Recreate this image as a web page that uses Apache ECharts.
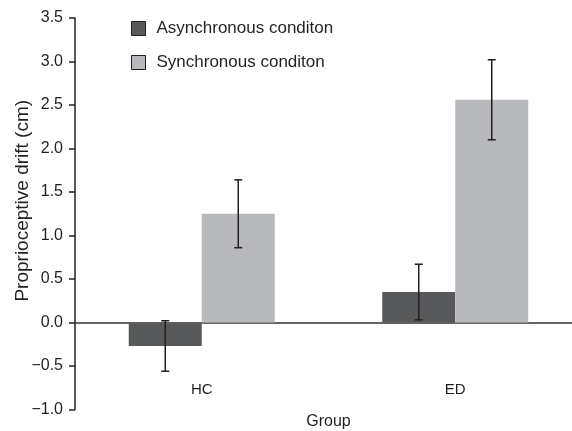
<!DOCTYPE html>
<html>
<head>
<meta charset="utf-8">
<script src="https://cdn.jsdelivr.net/npm/echarts@6/dist/echarts.min.js"></script>
<style>html,body{margin:0;padding:0;background:#fff}#c{width:572px;height:431px}</style>
</head>
<body>
<div id="c"></div>
<script>
var groups = ['HC', 'ED'];
var seriesNames = ['Asynchronous conditon', 'Synchronous conditon'];
var asyncValues = [-0.27, 0.35];
var syncValues = [1.25, 2.56];
var asyncErrors = [0.29, 0.32];
var syncErrors = [0.39, 0.46];
var yTicks = [-1.0, -0.5, 0.0, 0.5, 1.0, 1.5, 2.0, 2.5, 3.0, 3.5];

var textColor = '#231f20';
var fontFamily = 'Liberation Sans, Arial, sans-serif';
var barWidth = 73;

function errorSeries(values, errors, sign) {
  var data = values.map(function (v, i) { return [i, v - errors[i], v + errors[i]]; });
  return {
    type: 'custom',
    silent: true,
    z: 10,
    renderItem: function (params, api) {
      var idx = api.value(0);
      var lo = api.coord([idx, api.value(1)]);
      var hi = api.coord([idx, api.value(2)]);
      var x = lo[0] + sign * barWidth / 2;
      var cap = 4;
      var style = { stroke: textColor, lineWidth: 1.5 };
      return {
        type: 'group',
        children: [
          { type: 'line', shape: { x1: x, y1: lo[1], x2: x, y2: hi[1] }, style: style },
          { type: 'line', shape: { x1: x - cap, y1: lo[1], x2: x + cap, y2: lo[1] }, style: style },
          { type: 'line', shape: { x1: x - cap, y1: hi[1], x2: x + cap, y2: hi[1] }, style: style }
        ]
      };
    },
    data: data
  };
}

var chart = echarts.init(document.getElementById('c'));
chart.setOption({
  animation: false,
  backgroundColor: '#fff',
  textStyle: { fontFamily: fontFamily, color: textColor },
  grid: { left: 75, width: 507, top: 18, bottom: 21.5, containLabel: false, outerBoundsMode: 'none' },
  legend: {
    orient: 'vertical',
    left: 131,
    top: 20,
    padding: 0,
    itemWidth: 14,
    itemHeight: 14,
    itemGap: 17,
    icon: 'rect',
    data: seriesNames,
    itemStyle: { borderColor: textColor, borderWidth: 1 },
    textStyle: { fontSize: 17, color: textColor, fontFamily: fontFamily, padding: [0, 0, 0, 6] }
  },
  xAxis: {
    type: 'category',
    data: groups,
    name: 'Group',
    nameLocation: 'middle',
    nameGap: 4,
    nameMoveOverlap: false,
    nameTextStyle: { fontSize: 16, color: textColor, fontFamily: fontFamily },
    axisLine: { onZero: true, lineStyle: { color: '#333', width: 1.5 } },
    axisTick: { show: false },
    axisLabel: { margin: -27, fontSize: 15, color: textColor, fontFamily: fontFamily }
  },
  yAxis: {
    type: 'value',
    min: yTicks[0],
    max: yTicks[yTicks.length - 1],
    interval: 0.5,
    name: 'Proprioceptive drift (cm)',
    nameLocation: 'middle',
    nameGap: 43,
    nameMoveOverlap: false,
    nameTextStyle: { fontSize: 19, color: textColor, fontFamily: fontFamily, padding: [0, 0, 0, 26] },
    splitLine: { show: false },
    axisLine: { show: true, lineStyle: { color: textColor, width: 1.5 } },
    axisTick: { show: true, length: 6, lineStyle: { color: textColor, width: 1.5 } },
    axisLabel: {
      margin: 12,
      fontSize: 16,
      color: textColor,
      fontFamily: fontFamily,
      formatter: function (v) { return v.toFixed(1).replace('-', '\u2212'); }
    }
  },
  series: [
    {
      name: seriesNames[0], type: 'bar', data: asyncValues, barWidth: barWidth, barGap: '0%',
      itemStyle: { color: '#58595b' }
    },
    {
      name: seriesNames[1], type: 'bar', data: syncValues, barWidth: barWidth, barGap: '0%',
      itemStyle: { color: '#b8b9bc' }
    },
    errorSeries(asyncValues, asyncErrors, -1),
    errorSeries(syncValues, syncErrors, 1)
  ]
});
</script>
</body>
</html>
